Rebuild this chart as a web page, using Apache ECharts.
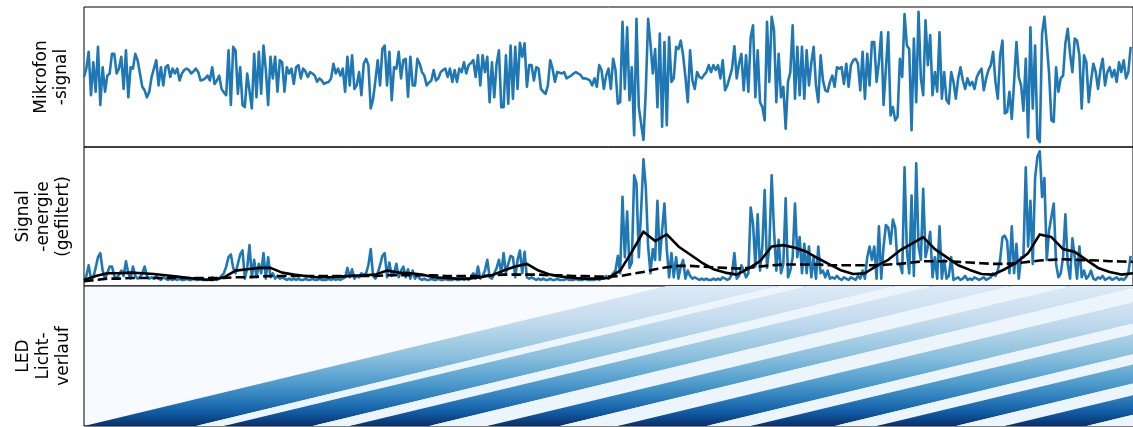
<!DOCTYPE html>
<html><head><meta charset="utf-8">
<script src="https://cdn.jsdelivr.net/npm/echarts@6/dist/echarts.min.js"></script>
<style>html,body{margin:0;padding:0;background:#fff}#c{width:1133px;height:427px}</style>
</head><body><div id="c"></div>
<script>
// ---------- data ----------
const sampleCount = 450;
const mic = [
0.0,0.12,0.36,-0.26,0.21,-0.21,0.43,-0.40,0.14,-0.21,
0.02,0.05,0.33,0.33,0.05,0.12,0.29,-0.17,0.38,-0.29,
0.14,0.12,0.33,0.24,0.05,-0.14,-0.19,-0.29,-0.21,0.0,
0.12,0.24,-0.12,0.14,-0.12,0.14,0.17,0.0,0.12,0.05,
0.12,-0.05,0.05,0.10,0.12,0.10,0.05,0.08,0.12,0.07,
-0.05,-0.04,-0.02,0.02,-0.05,0.14,-0.10,-0.05,0.02,-0.17,
-0.22,-0.26,0.38,-0.40,0.43,0.38,-0.24,0.14,-0.40,-0.43,
0.05,-0.20,-0.45,0.33,-0.29,0.36,-0.24,0.45,0.10,-0.40,
0.29,-0.02,0.29,-0.21,0.24,0.21,-0.21,0.14,0.05,0.12,
-0.10,0.14,0.17,-0.02,0.12,0.08,0.0,0.07,0.05,0.02,
-0.07,-0.02,-0.05,-0.10,-0.08,-0.07,-0.02,0.19,0.05,0.12,
0.02,0.12,-0.21,0.29,-0.12,0.31,-0.17,-0.12,0.07,-0.26,
0.19,0.26,0.17,-0.45,-0.32,-0.05,0.24,-0.12,0.40,0.45,
-0.12,0.36,-0.33,0.14,0.12,0.36,-0.02,0.24,0.26,-0.28,
0.29,-0.12,-0.12,0.26,0.19,0.07,0.02,-0.12,-0.08,-0.05,
0.10,-0.05,-0.02,0.07,0.10,0.12,0.0,0.12,-0.07,0.10,
-0.07,0.12,0.07,0.21,0.05,0.17,0.20,0.24,0.0,0.31,
-0.12,0.31,0.07,0.29,-0.36,0.21,-0.29,0.19,0.38,-0.43,
-0.43,0.31,-0.38,0.45,-0.31,0.43,-0.17,0.49,0.29,0.48,
-0.14,0.17,0.17,-0.05,0.14,0.12,-0.17,-0.21,-0.24,-0.12,
0.24,0.12,-0.07,0.07,0.06,0.05,0.07,-0.02,0.0,0.02,
0.05,0.07,0.05,0.03,-0.02,-0.02,-0.03,-0.05,-0.12,-0.02,
-0.14,0.17,0.10,-0.17,0.02,0.12,-0.17,0.26,0.10,-0.38,
-0.36,0.79,-0.17,0.71,-0.33,0.14,-0.83,0.83,-0.43,-0.67,
-0.90,-0.20,0.83,0.48,0.05,0.40,-0.43,0.62,-0.71,0.50,
-0.69,0.57,-0.07,-0.02,0.43,0.40,0.52,0.31,0.0,-0.36,
0.38,-0.05,-0.17,0.07,0.0,-0.02,0.03,0.07,0.17,0.07,
0.17,0.10,0.17,-0.02,0.24,-0.19,-0.12,0.0,0.12,0.44,
-0.02,0.19,0.33,-0.19,0.31,-0.21,0.57,0.74,-0.29,0.38,
-0.36,-0.43,-0.62,0.79,-0.07,0.86,0.67,-0.36,0.33,-0.29,
-0.14,-0.74,-0.07,0.07,0.74,-0.31,0.43,-0.26,0.43,-0.31,
0.38,-0.12,0.20,0.43,-0.12,-0.36,0.31,-0.05,-0.19,-0.21,
-0.07,0.02,-0.14,0.14,0.12,0.14,-0.10,0.19,-0.14,0.17,
0.24,0.26,0.19,-0.19,0.36,-0.31,0.33,-0.12,0.50,0.50,
-0.07,0.21,0.64,-0.40,0.12,0.64,-0.55,-0.43,-0.62,-0.57,
0.26,0.0,0.90,0.45,0.40,-0.76,0.55,-0.36,0.93,-0.02,
-0.26,0.81,0.17,0.60,-0.26,0.07,-0.21,0.64,-0.31,0.07,
-0.33,-0.38,0.07,-0.07,-0.31,-0.02,0.14,-0.05,-0.17,-0.02,
-0.12,-0.07,-0.17,0.0,0.07,0.12,-0.19,-0.02,0.10,0.17,
0.36,-0.07,-0.31,0.31,0.52,-0.52,-0.50,-0.21,-0.60,-0.07,
0.50,0.0,-0.12,-0.48,0.26,-0.86,0.71,-0.45,0.45,-0.88,
-0.93,0.62,0.86,0.48,0.05,-0.62,-0.64,0.14,-0.21,-0.02,
0.02,0.48,0.69,0.33,0.07,0.55,0.52,0.31,-0.45,0.31,
0.21,-0.36,-0.05,0.19,0.07,-0.17,0.10,0.26,-0.12,0.07,
0.14,0.0,0.10,-0.07,0.21,0.07,0.24,-0.02,0.07,0.43
];
const energy = [
0.03,0.06,0.14,0.04,0.05,0.12,0.20,0.23,0.10,0.04,
0.08,0.13,0.13,0.06,0.04,0.07,0.10,0.06,0.17,0.08,
0.04,0.13,0.06,0.04,0.05,0.08,0.13,0.06,0.04,0.05,
0.04,0.06,0.04,0.03,0.05,0.04,0.03,0.04,0.03,0.04,
0.03,0.04,0.03,0.03,0.04,0.03,0.03,0.04,0.03,0.03,
0.04,0.03,0.03,0.03,0.04,0.05,0.04,0.03,0.04,0.06,
0.08,0.13,0.20,0.22,0.12,0.08,0.15,0.22,0.25,0.04,
0.12,0.29,0.05,0.18,0.05,0.15,0.08,0.23,0.04,0.20,
0.05,0.08,0.04,0.06,0.04,0.05,0.04,0.03,0.04,0.03,
0.04,0.03,0.04,0.03,0.03,0.04,0.03,0.03,0.04,0.03,
0.03,0.04,0.03,0.03,0.03,0.04,0.03,0.04,0.03,0.04,
0.03,0.04,0.05,0.12,0.05,0.11,0.04,0.06,0.05,0.08,
0.07,0.08,0.14,0.26,0.06,0.04,0.08,0.14,0.21,0.23,
0.05,0.16,0.06,0.08,0.15,0.05,0.10,0.13,0.05,0.11,
0.04,0.10,0.04,0.07,0.04,0.03,0.04,0.03,0.03,0.04,
0.03,0.03,0.04,0.03,0.03,0.04,0.03,0.03,0.03,0.04,
0.03,0.03,0.04,0.03,0.04,0.03,0.05,0.08,0.04,0.13,
0.04,0.06,0.10,0.18,0.05,0.04,0.08,0.12,0.18,0.08,
0.23,0.08,0.15,0.21,0.20,0.05,0.18,0.25,0.08,0.24,
0.05,0.04,0.05,0.04,0.03,0.04,0.03,0.04,0.03,0.03,
0.04,0.03,0.03,0.04,0.03,0.03,0.03,0.04,0.03,0.03,
0.03,0.04,0.03,0.03,0.03,0.04,0.03,0.03,0.03,0.03,
0.04,0.03,0.04,0.04,0.06,0.04,0.05,0.08,0.10,0.21,
0.08,0.65,0.20,0.54,0.12,0.16,0.81,0.75,0.20,0.55,
0.93,0.72,0.28,0.08,0.26,0.18,0.62,0.18,0.40,0.60,
0.26,0.05,0.23,0.05,0.20,0.04,0.13,0.18,0.04,0.10,
0.06,0.04,0.05,0.04,0.03,0.04,0.03,0.04,0.03,0.03,
0.04,0.03,0.04,0.03,0.05,0.04,0.03,0.04,0.08,0.23,
0.04,0.06,0.14,0.10,0.05,0.08,0.57,0.45,0.13,0.52,
0.10,0.28,0.70,0.12,0.28,0.81,0.40,0.10,0.33,0.08,
0.15,0.64,0.05,0.10,0.20,0.60,0.20,0.35,0.08,0.30,
0.08,0.28,0.05,0.20,0.04,0.28,0.08,0.10,0.05,0.10,
0.04,0.05,0.04,0.06,0.04,0.03,0.05,0.04,0.03,0.05,
0.04,0.03,0.06,0.04,0.10,0.04,0.20,0.28,0.18,0.28,
0.04,0.43,0.04,0.28,0.44,0.42,0.30,0.48,0.42,0.15,
0.15,0.08,0.87,0.25,0.08,0.66,0.06,0.90,0.28,0.18,
0.71,0.20,0.28,0.39,0.05,0.20,0.04,0.43,0.04,0.18,
0.04,0.06,0.20,0.03,0.04,0.05,0.03,0.04,0.06,0.03,
0.04,0.03,0.05,0.04,0.03,0.04,0.05,0.03,0.04,0.05,
0.08,0.06,0.10,0.18,0.35,0.36,0.32,0.08,0.43,0.08,
0.30,0.04,0.20,0.20,0.87,0.28,0.62,0.15,0.79,0.95,
0.99,0.65,0.79,0.18,0.40,0.50,0.60,0.15,0.05,0.08,
0.20,0.52,0.15,0.04,0.34,0.20,0.04,0.28,0.05,0.10,
0.04,0.06,0.10,0.04,0.03,0.05,0.04,0.06,0.03,0.04,
0.05,0.03,0.04,0.05,0.03,0.04,0.03,0.05,0.08,0.21
];
const smoothStep = 5;
const energyFast = [
0.03,0.06,0.08,0.08,0.085,0.08,0.075,0.065,0.055,0.045,
0.035,0.03,0.05,0.10,0.11,0.12,0.12,0.085,0.07,0.06,
0.05,0.05,0.055,0.062,0.065,0.07,0.10,0.085,0.08,0.07,
0.05,0.045,0.04,0.04,0.05,0.065,0.10,0.13,0.15,0.10,
0.07,0.055,0.045,0.04,0.04,0.045,0.10,0.24,0.39,0.32,
0.37,0.28,0.22,0.16,0.11,0.085,0.07,0.115,0.17,0.28,
0.29,0.27,0.24,0.19,0.145,0.10,0.075,0.08,0.135,0.18,
0.25,0.30,0.35,0.26,0.20,0.14,0.105,0.075,0.07,0.11,
0.16,0.23,0.37,0.35,0.26,0.24,0.18,0.12,0.09,0.07,
0.08
];
const energySlow = [
0.02,0.03,0.04,0.04,0.045,0.045,0.045,0.045,0.045,0.045,
0.045,0.045,0.045,0.05,0.05,0.055,0.06,0.06,0.06,0.06,
0.06,0.06,0.06,0.06,0.06,0.06,0.065,0.065,0.065,0.065,
0.065,0.06,0.06,0.06,0.06,0.065,0.07,0.07,0.07,0.07,
0.065,0.065,0.06,0.06,0.055,0.055,0.06,0.075,0.09,0.11,
0.125,0.135,0.135,0.13,0.125,0.12,0.115,0.12,0.13,0.14,
0.145,0.145,0.145,0.145,0.14,0.14,0.14,0.14,0.14,0.145,
0.15,0.16,0.17,0.17,0.17,0.165,0.16,0.155,0.15,0.15,
0.155,0.165,0.175,0.18,0.185,0.18,0.178,0.175,0.17,0.168,
0.165
];
// LED on-periods (sample index where the light switches on / off at the bottom LED)
const ledOnStart = [0, 60, 114, 173, 229, 286, 340, 395];
const ledOnEnd   = [48, 98, 148, 204, 267, 322, 374, 430];
// brightness of a lit LED from bottom (index 0) to top (last), equally spaced in height
const ledFade = [1.0, 0.83, 0.70, 0.59, 0.50, 0.42, 0.36, 0.29, 0.23, 0.18, 0.13];
const ledOffLevel = 0.05;
const ledTravel = 250; // samples the light needs from bottom LED to top LED
const panelLabels = ['Mikrofon\n-signal', 'Signal\n-energie\n(gefiltert)', 'LED\nLicht-\nverlauf'];

// ---------- helpers ----------
const BLUES = ['#f7fbff','#deebf7','#c6dbef','#9ecae1','#6baed6','#4292c6','#2171b5','#08519c','#08306b'];
function hx(c){return [parseInt(c.slice(1,3),16),parseInt(c.slice(3,5),16),parseInt(c.slice(5,7),16)];}
function blues(t){
  t = Math.max(0, Math.min(1, t));
  const p = t * 8, i = Math.min(7, Math.floor(p)), f = p - i;
  const a = hx(BLUES[i]), b = hx(BLUES[i+1]);
  return 'rgb(' + a.map((v,k)=>Math.round(v + (b[k]-v)*f)).join(',') + ')';
}

const ledData = [];
for (let k = 0; k < ledOnStart.length; k++) {
  ledData.push([ledOnStart[k], ledOnEnd[k], 1]);
  const nextStart = k + 1 < ledOnStart.length ? ledOnStart[k+1] : sampleCount + 1;
  ledData.push([ledOnEnd[k], nextStart, 0]);
}

const chart = echarts.init(document.getElementById('c'), null, {renderer: 'canvas'});
const grids = [
  {left: 84, right: -1, top: 7, height: 140},
  {left: 84, right: -1, top: 147, height: 139},
  {left: 84, right: -1, top: 286, height: 140}
].map(g => Object.assign(g, {show: true, borderColor: '#000', borderWidth: 1, backgroundColor: 'transparent', containLabel: false}));
grids[2].backgroundColor = '#f7fbff';

const yRanges = [[-1, 1], [-0.015, 1.022], [0, 1]];
const nameGaps = [12.5, 10.5, 10.5];
const xAxes = [0,1,2].map(i => ({gridIndex: i, type: 'value', min: 0, max: sampleCount, show: false}));
const yAxes = [0,1,2].map(i => ({
  gridIndex: i, type: 'value', min: yRanges[i][0], max: yRanges[i][1],
  axisLine: {show: false}, axisTick: {show: false}, axisLabel: {show: false}, splitLine: {show: false},
  name: panelLabels[i], nameLocation: 'middle', nameRotate: 90, nameGap: nameGaps[i],
  nameTextStyle: {fontFamily: 'DejaVu Sans', fontSize: 17, lineHeight: 20, color: '#000', align: 'center'}
}));

const lineBase = {type: 'line', showSymbol: false, symbol: 'none', animation: false, clip: true};
chart.setOption({
  animation: false,
  grid: grids, xAxis: xAxes, yAxis: yAxes,
  series: [
    Object.assign({}, lineBase, {xAxisIndex: 0, yAxisIndex: 0, data: mic.map((v,i)=>[i,v]),
      lineStyle: {color: '#1f77b4', width: 2.6, join: 'round'}}),
    Object.assign({}, lineBase, {xAxisIndex: 1, yAxisIndex: 1, data: energy.map((v,i)=>[i,v]),
      lineStyle: {color: '#1f77b4', width: 2.6, join: 'round'}, z: 2}),
    Object.assign({}, lineBase, {xAxisIndex: 1, yAxisIndex: 1, data: energySlow.map((v,k)=>[k*smoothStep,v]),
      lineStyle: {color: '#000', width: 2.6, type: [9.6, 4.2]}, z: 3}),
    Object.assign({}, lineBase, {xAxisIndex: 1, yAxisIndex: 1, data: energyFast.map((v,k)=>[k*smoothStep,v]),
      lineStyle: {color: '#000', width: 2.6, join: 'round'}, z: 4}),
    {type: 'custom', xAxisIndex: 2, yAxisIndex: 2, clip: true, animation: false, data: ledData,
      renderItem: function(params, api){
        const s = api.value(0), e = api.value(1), on = api.value(2);
        const pts = [api.coord([s,0]), api.coord([e,0]), api.coord([e+ledTravel,1]), api.coord([s+ledTravel,1])];
        const stops = ledFade.map((v,k)=>({offset: k/(ledFade.length-1), color: blues(on ? v : ledOffLevel)}));
        return {type: 'polygon', shape: {points: pts},
          style: {fill: new echarts.graphic.LinearGradient(0,1,0,0,stops), stroke: null}};
      }}
  ]
});
</script></body></html>
